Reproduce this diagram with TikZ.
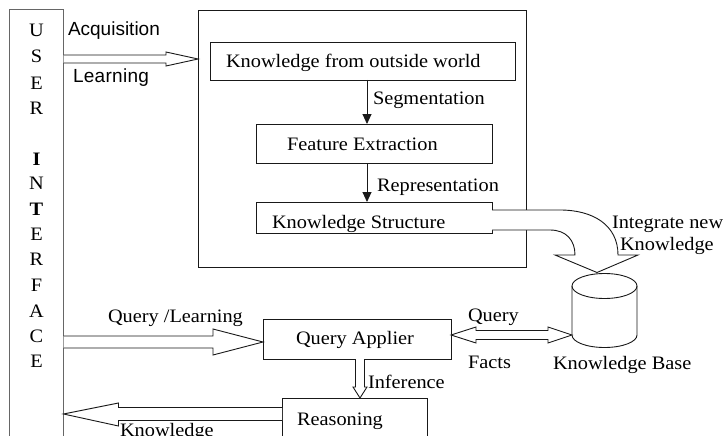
\documentclass[tikz,border=0pt]{standalone}
\usepackage{fontspec}
\setmainfont[FakeStretch=1.07]{Liberation Serif}
\newfontfamily\sansf{Liberation Sans}
\usetikzlibrary{arrows.meta}
\begin{document}
\begin{tikzpicture}[x=1pt,y=-1pt,
  every node/.style={inner sep=0pt, outer sep=0pt, font=\fontsize{19}{22}\selectfont},
  ln/.style={line width=0.9pt, draw=black!90},
  box/.style={ln, rectangle, inner sep=0pt},
  blk/.style={ln, fill=white, line join=miter},
  lab/.style={anchor=base west},
  letter/.style={anchor=base},
  thin/.style={ln, -{Triangle[length=10pt,width=9pt]}}]
\useasboundingbox (0,0) rectangle (723,436);

% user interface column
\node[box, draw=black!60, line width=1pt, minimum width=54, minimum height=450] (ui) at (36.5,235) {};
\foreach \l/\y in {U/37,S/63,E/89,R/114,\textbf{I}/165,N/189,\textbf{T}/215,E/240,R/265,F/291,A/317,C/342,E/367}
  \node[letter] at (36.5,\y) {\l};

% outer box and inner boxes
\node[box, minimum width=328, minimum height=257] (outer) at (362,138.5) {};
\node[box, minimum width=305, minimum height=38] (b1) at (362.5,61) {};
\node[box, minimum width=236, minimum height=39] (b2) at (374,143.5) {};
\node[box, minimum width=236, minimum height=31] (b3) at (374,217.5) {};
\node[lab] (t1) at (226,67) {Knowledge from outside world};
\node[lab] (t2) at (287,150) {Feature Extraction};
\node[lab] (t3) at (272,228) {Knowledge Structure};

\draw[thin] (b1.south -| 367,0) -- (b2.north -| 367,0);
\draw[thin] (b2.south -| 367,0) -- (b3.north -| 367,0);
\node[lab] (seg) at (373,104) {Segmentation};
\node[lab] (rep) at (377,191) {Representation};

% acquisition arrow
\coordinate (a1) at (ui.east |- 0,59);
\coordinate (a2) at (outer.west |- 0,59);
\draw[blk] ([yshift=-4]a1) -- ([xshift=-32,yshift=-4]a2) -- ([xshift=-32,yshift=-7]a2) -- (a2)
  -- ([xshift=-32,yshift=7]a2) -- ([xshift=-32,yshift=4]a2) -- ([yshift=4]a1);
\node[lab] (acq) at (68,36) {\sansf Acquisition};
\node[lab] (lrn) at (73,83) {\sansf L\kern0.3pt e\kern0.3pt a\kern0.3pt r\kern0.3pt n\kern0.3pt i\kern0.3pt n\kern0.3pt g};

% knowledge base cylinder
\node[minimum width=65, minimum height=75] (kb) at (604.5,310) {};
\draw[ln, fill=white] (572,286) -- (572,335)
  .. controls (572,342) and (586.6,347.5) .. (604.5,347.5)
  .. controls (622.4,347.5) and (637,342) .. (637,335) -- (637,286);
\draw[ln] (604.5,286) ellipse [x radius=32.5, y radius=12.5];
\node[lab] (kbl) at (553,369) {Knowledge Base};

% curved integrate arrow
\draw[blk] (b3.east |- 0,210) -- (560,210) .. controls (593,210) and (618,225) .. (618,255)
  -- (638,255) -- (kb.north -| 597,0) -- (555,255) -- (575,255)
  .. controls (575,240) and (566,230) .. (550,230) -- (b3.east |- 0,230);
\node[lab] (int1) at (612,228) {Integrate new};
\node[lab] (int2) at (620,250) {Knowledge};

% query applier
\node[box, minimum width=188, minimum height=40] (qa) at (357,339) {};
\node[lab] (tqa) at (296,344) {Query Applier};

% query / learning arrow
\coordinate (q1) at (ui.east |- 0,342);
\coordinate (q2) at (qa.west |- 0,342);
\draw[blk] ([yshift=-6]q1) -- ([xshift=-50,yshift=-6]q2) -- ([xshift=-50,yshift=-13]q2) -- (q2)
  -- ([xshift=-50,yshift=13]q2) -- ([xshift=-50,yshift=6]q2) -- ([yshift=6]q1);
\node[lab] (ql) at (108,322) {Query /Learning};

% query / facts double arrow
\coordinate (f1) at (qa.east |- 0,335);
\coordinate (f2) at (kb.west |- 0,335);
\draw[blk] (f1) -- ([xshift=25,yshift=-8]f1) -- ([xshift=25,yshift=-4.5]f1) -- ([xshift=-24,yshift=-4.5]f2)
  -- ([xshift=-24,yshift=-8]f2) -- (f2) -- ([xshift=-24,yshift=8]f2) -- ([xshift=-24,yshift=4.5]f2)
  -- ([xshift=25,yshift=4.5]f1) -- ([xshift=25,yshift=8]f1) -- cycle;
\node[lab] (qy) at (468,321) {Query};
\node[lab] (fc) at (468,368) {Facts};

% reasoning
\node[box, minimum width=145, minimum height=60] (rs) at (354.5,428) {};
\node[lab] (trs) at (297,425) {Reasoning};

% inference arrow (yshift is in canvas direction: positive = up)
\coordinate (i1) at (qa.south -| 360,0);
\coordinate (i2) at (rs.north -| 360,0);
\draw[blk] ([xshift=-4.5]i1) -- ([xshift=-4.5,yshift=11]i2) -- ([xshift=-7,yshift=11]i2) -- (i2)
  -- ([xshift=7,yshift=11]i2) -- ([xshift=4.5,yshift=11]i2) -- ([xshift=4.5]i1);
\node[lab] (inf) at (368,388) {Inference};

% knowledge back arrow
\coordinate (k1) at (rs.west |- 0,414);
\coordinate (k2) at (ui.east |- 0,414);
\draw[blk] ([yshift=-6.5]k1) -- ([xshift=55,yshift=-6.5]k2) -- ([xshift=55,yshift=-12]k2) -- (k2)
  -- ([xshift=55,yshift=11]k2) -- ([xshift=55,yshift=6.5]k2) -- ([yshift=6.5]k1);
\node[lab] (kn) at (120,436) {Knowledge};
\end{tikzpicture}
\end{document}
